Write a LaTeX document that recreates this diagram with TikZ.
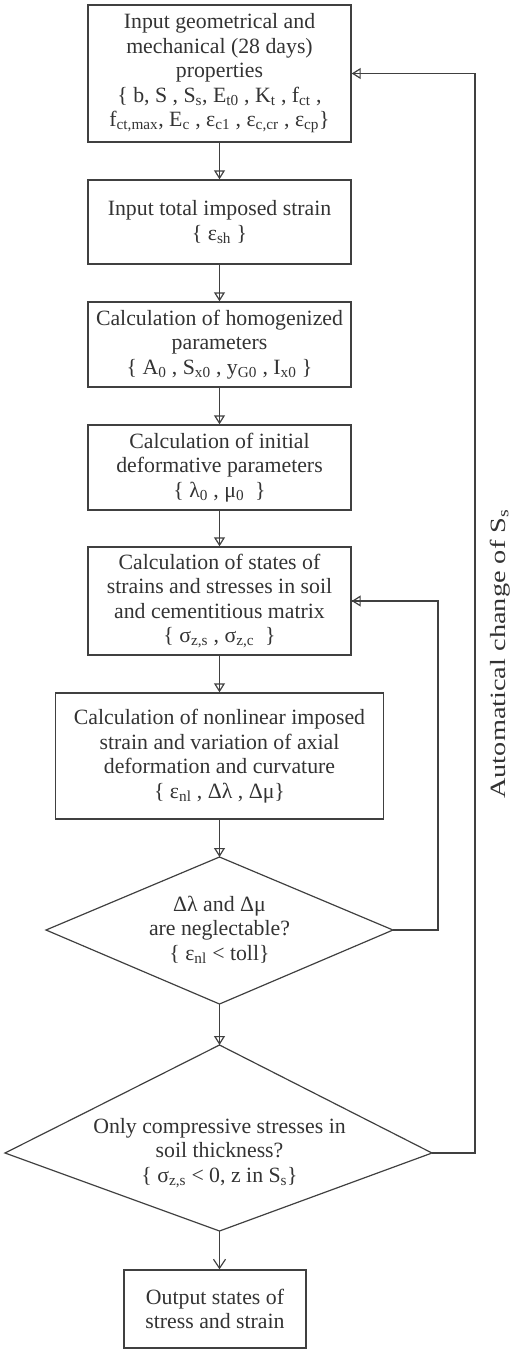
\documentclass[tikz,border=0pt]{standalone}
\usepackage{fontspec}
\setmainfont{Liberation Serif}
\usetikzlibrary{arrows.meta}
\newcommand{\sbs}[1]{\textsubscript{#1}}
\begin{document}
\begin{tikzpicture}[x=1pt,y=-1pt,
  every node/.style={text=black!80, font=\fontsize{21.8}{24.5}\selectfont},
  box/.style={draw=black!75, line width=1.4pt, align=center, inner sep=0pt},
  dline/.style={draw=black!75, line width=1.2pt, line join=miter},
  flow/.style={draw=black!75, line width=1.3pt,
    -{Triangle[open,length=9pt,width=11pt,line width=1.2pt]},
    postaction={draw=black!75, line width=1.3pt, -}},
  flowlast/.style={draw=black!75, line width=1.3pt,
    -{Straight Barb[length=9pt,width=12pt,line width=1.2pt]}}
]
\useasboundingbox (0,0) rectangle (510,1349);

\node[box, minimum width=263pt, minimum height=137pt] (b1) at (219.5,73.5)
  {Input geometrical and\\mechanical (28 days)\\properties\\
   \{ b, S , S\sbs{s}, E\sbs{t0} , K\sbs{t} , f\sbs{ct} ,\\
   f\sbs{ct,max}, E\sbs{c} , ε\sbs{c1} , ε\sbs{c,cr} , ε\sbs{cp}\}};
\node[box, minimum width=263pt, minimum height=84pt] (b2) at (219.5,222)
  {Input total imposed strain\\\{ ε\sbs{sh} \}};
\node[box, minimum width=263pt, minimum height=85pt] (b3) at (219.5,344.5)
  {Calculation of homogenized\\parameters\\\{ A\sbs{0} , S\sbs{x0} , y\sbs{G0} , I\sbs{x0} \}};
\node[box, minimum width=263pt, minimum height=85pt] (b4) at (219.5,467.5)
  {Calculation of initial\\deformative parameters\\\{ λ\sbs{0} , μ\sbs{0}~ \}};
\node[box, minimum width=263pt, minimum height=108pt] (b5) at (219.5,601)
  {Calculation of states of\\strains and stresses in soil\\and cementitious matrix\\\{ σ\sbs{z,s} , σ\sbs{z,c}~ \}};
\node[box, minimum width=328pt, minimum height=126pt] (b6) at (219.5,756)
  {Calculation of nonlinear imposed\\strain and variation of axial\\deformation and curvature\\\{ ε\sbs{nl} , Δλ , Δμ\}};

% decision 1
\coordinate (d1t) at (219.5,857);
\coordinate (d1r) at (393,930);
\coordinate (d1b) at (219.5,1004);
\coordinate (d1l) at (46,930);
\draw[dline] (d1t) -- (d1r) -- (d1b) -- (d1l) -- cycle;
\node[align=center] (d1) at (219.5,930) {Δλ and Δμ\\are neglectable?\\\{ ε\sbs{nl} < toll\}};

% decision 2
\coordinate (d2t) at (219.5,1045);
\coordinate (d2r) at (432,1153);
\coordinate (d2b) at (219.5,1231);
\coordinate (d2l) at (5,1153);
\draw[dline] (d2t) -- (d2r) -- (d2b) -- (d2l) -- cycle;
\node[align=center] (d2) at (219.5,1153) {Only compressive stresses in\\soil thickness?\\\{ σ\sbs{z,s} < 0, z in S\sbs{s}\}};

\node[box, minimum width=182pt, minimum height=78pt] (out) at (215,1309)
  {Output states of\\stress and strain};

% main flow
\draw[flow] (b1.south) -- (b2.north);
\draw[flow] (b2.south) -- (b3.north);
\draw[flow] (b3.south) -- (b4.north);
\draw[flow] (b4.south) -- (b5.north);
\draw[flow] (b5.south) -- (b6.north);
\draw[flow] (b6.south) -- (d1t);
\draw[flow] (d1b) -- (d2t);
\draw[flowlast] (d2b) -- (d2b |- out.north);

% loops
\coordinate (l1) at (438,930);
\draw[flow] (d1r) -- (l1) |- (b5.east);
\coordinate (l2) at (475,1153);
\draw[flow] (d2r) -- (l2) |- (b1.east);

\node[rotate=90] (lab) at (500,654) {\scalebox{1.3}[1]{Automatical change of S\sbs{s}}};
\end{tikzpicture}
\end{document}
